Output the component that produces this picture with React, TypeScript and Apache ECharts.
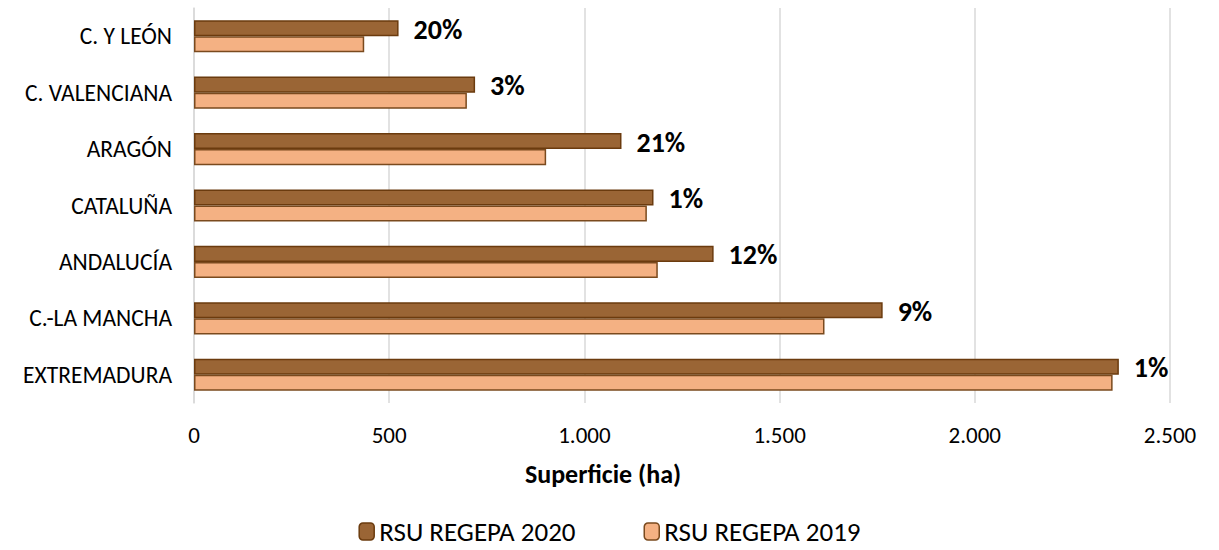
import React, { useEffect, useRef } from "react";
import * as echarts from "echarts";

const categories = ["C. Y LEÓN", "C. VALENCIANA", "ARAGÓN", "CATALUÑA", "ANDALUCÍA", "C.-LA MANCHA", "EXTREMADURA"];
const values2020 = [524, 720, 1095, 1177, 1331, 1764, 2369];
const values2019 = [436, 699, 902, 1160, 1188, 1615, 2353];
const pctLabels = ["20%", "3%", "21%", "1%", "12%", "9%", "1%"];
const xTicks = [0, 500, 1000, 1500, 2000, 2500];

const FONT = "Carlito, Calibri, Lato, 'Open Sans', sans-serif";

function fmt(v: number) {
  return String(v).replace(/\B(?=(\d{3})+(?!\d))/g, ".");
}

export default function App() {
  const ref = useRef<HTMLDivElement>(null);
  useEffect(() => {
    if (!ref.current) return;
    const chart = echarts.init(ref.current, null, { renderer: "svg" });
    chart.setOption({
      animation: false,
      textStyle: { fontFamily: FONT },
      grid: { left: 194, right: 49, top: 8, bottom: 147, containLabel: false },
      xAxis: {
        type: "value",
        min: xTicks[0],
        max: xTicks[xTicks.length - 1],
        interval: 500,
        axisLine: { show: false },
        axisTick: { show: false },
        splitLine: { show: true, lineStyle: { color: "#d9d9d9", width: 1.5 } },
        axisLabel: {
          margin: 20,
          fontSize: 23,
          color: "#000",
          fontFamily: FONT,
          formatter: (v: number) => fmt(v),
        },
      },
      yAxis: {
        type: "category",
        data: categories,
        inverse: true,
        axisLine: { show: true, lineStyle: { color: "#d9d9d9", width: 1.5 } },
        axisTick: { show: false },
        axisLabel: { margin: 22, fontSize: 23.5, color: "#000", fontFamily: FONT },
      },
      legend: {
        bottom: 0,
        left: "center",
        itemWidth: 15,
        itemHeight: 17,
        itemGap: 68,
        itemStyle: { borderWidth: 1.5 },
        textStyle: { fontSize: 27, color: "#000", fontFamily: FONT },
        data: ["RSU REGEPA 2020", "RSU REGEPA 2019"],
      },
      graphic: [
        {
          type: "text",
          x: 603,
          y: 474,
          style: {
            text: "Superficie (ha)",
            font: `bold 26px ${FONT}`,
            fill: "#000",
            align: "center",
            verticalAlign: "middle",
          },
        },
      ],
      series: [
        {
          name: "RSU REGEPA 2020",
          type: "bar",
          data: values2020,
          barGap: "0%",
          barCategoryGap: "43%",
          itemStyle: { color: "#9A6535", borderColor: "#6B3B0E", borderWidth: 1.5 },
          label: {
            show: true,
            position: "right",
            distance: 15,
            offset: [0, 1],
            formatter: (p: any) => pctLabels[p.dataIndex],
            fontSize: 28,
            fontWeight: "bold",
            color: "#000",
            fontFamily: FONT,
          },
        },
        {
          name: "RSU REGEPA 2019",
          type: "bar",
          data: values2019,
          barGap: "0%",
          barCategoryGap: "43%",
          itemStyle: { color: "#F4B183", borderColor: "#7A4A1E", borderWidth: 1.5 },
        },
      ],
    });
    return () => chart.dispose();
  }, []);
  return (
    <div
      ref={ref}
      style={{ position: "fixed", left: 0, top: 0, width: 1219, height: 550, background: "#fff" }}
    />
  );
}
